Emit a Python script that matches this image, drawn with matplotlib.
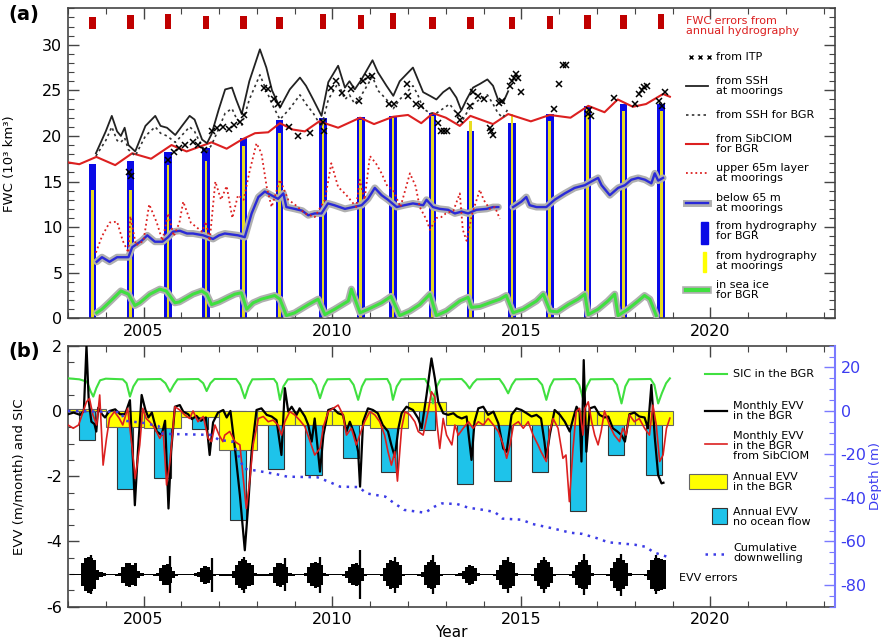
import numpy as np
import matplotlib
matplotlib.use("Agg")
import matplotlib.pyplot as plt
from matplotlib.ticker import MultipleLocator
from matplotlib.patches import Rectangle

plt.rcParams['font.family'] = ['DejaVu Sans']
plt.rcParams['axes.unicode_minus'] = False

# ---------------- panel (a): FWC (10^3 km^3) ----------------
# SSH based FWC, solid = at moorings, dotted = for BGR
ssh_t = [2003.74, 2004.0, 2004.16, 2004.3, 2004.4, 2004.5, 2004.6, 2004.78, 2005.05, 2005.31,
         2005.45, 2005.62, 2005.84, 2006.0, 2006.22, 2006.35, 2006.55, 2006.68, 2006.8, 2006.99,
         2007.16, 2007.34, 2007.45, 2007.6, 2007.8, 2008.08, 2008.25, 2008.4, 2008.61, 2008.87,
         2009.14, 2009.3, 2009.49, 2009.71, 2009.89, 2010.15, 2010.33, 2010.45, 2010.59, 2010.77,
         2011.06, 2011.2, 2011.43, 2011.61, 2011.78, 2012.13, 2012.26, 2012.4, 2012.58, 2012.75,
         2012.93, 2013.1, 2013.28, 2013.41, 2013.55, 2013.72, 2013.9, 2014.1, 2014.25, 2014.38,
         2014.51, 2014.65]
ssh_moorings = [18.1, 20.5, 22.2, 20.5, 20.0, 20.9, 19.0, 18.3, 21.1, 22.2,
                21.1, 20.9, 20.1, 21.0, 22.2, 21.8, 19.6, 19.2, 20.2, 22.9,
                25.1, 25.3, 24.0, 22.4, 26.0, 29.5, 27.5, 25.0, 23.1, 25.1,
                26.4, 25.5, 24.0, 22.2, 25.9, 27.7, 25.3, 26.0, 25.1, 26.2,
                28.3, 27.0, 25.5, 24.4, 26.0, 27.5, 26.2, 24.8, 24.4, 24.0,
                24.8, 25.3, 24.2, 22.8, 24.0, 25.3, 25.7, 26.2, 25.5, 24.0,
                23.6, 24.9]
ssh_bgr = [17.8, 19.5, 21.0, 19.5, 19.3, 19.8, 18.5, 17.8, 20.0, 21.0,
           20.3, 20.0, 19.3, 20.0, 21.0, 20.5, 18.8, 18.3, 19.0, 20.8,
           22.5, 23.0, 22.0, 21.2, 24.0, 26.7, 25.0, 23.5, 21.8, 23.0,
           24.5, 23.5, 22.5, 21.0, 24.0, 25.8, 24.0, 24.5, 23.5, 24.5,
           26.5, 25.0, 24.0, 23.0, 24.0, 25.5, 24.5, 23.0, 22.5, 22.5,
           23.0, 23.5, 22.5, 21.5, 22.5, 23.5, 24.0, 24.5, 23.5, 22.5,
           22.0, 23.0]

# ITP estimates
itp_t = [2004.62, 2004.66, 2005.65, 2005.8, 2005.95, 2006.1, 2006.3, 2006.45, 2006.6, 2006.8,
         2006.95, 2007.1, 2007.25, 2007.4, 2007.55, 2007.65, 2008.2, 2008.3, 2008.45, 2008.55,
         2008.85, 2009.1, 2009.4, 2009.75, 2009.77, 2009.95, 2010.1, 2010.25, 2010.5, 2010.7,
         2010.8, 2010.95, 2011.05, 2011.5, 2011.62, 2011.96, 2012.0, 2012.2, 2012.35, 2012.79,
         2012.87, 2012.95, 2013.03, 2013.33, 2013.37, 2013.64, 2013.72, 2013.85, 2014.0, 2014.16,
         2014.2, 2014.25, 2014.42, 2014.5, 2014.7, 2014.75, 2014.8, 2014.85, 2014.9, 2015.0,
         2015.86, 2015.99, 2016.1, 2016.18, 2016.75, 2016.8, 2016.85, 2017.45, 2018.0, 2018.1,
         2018.18, 2018.25, 2018.32, 2018.65, 2018.72, 2018.8]
itp_v = [16.0, 15.6, 17.4, 18.2, 18.7, 19.0, 19.3, 19.0, 18.5, 20.5,
         20.9, 21.0, 20.8, 21.2, 21.5, 22.3, 25.3, 25.2, 24.0, 23.5,
         21.0, 20.0, 20.3, 21.5, 20.5, 25.3, 26.0, 24.7, 25.1, 23.8,
         26.0, 26.5, 26.6, 23.5, 23.5, 25.7, 24.4, 23.5, 23.3, 21.4,
         20.5, 20.5, 20.5, 22.4, 21.8, 23.3, 24.8, 24.4, 24.0, 20.9,
         20.5, 20.1, 23.6, 23.8, 25.5, 26.0, 26.3, 26.8, 26.4, 24.8,
         22.9, 25.7, 27.8, 27.8, 22.4, 22.8, 22.2, 24.2, 23.5, 24.6,
         25.0, 25.4, 25.5, 23.8, 23.3, 24.8]

# SibCIOM FWC for the BGR
sib_t = [2003.0, 2003.3, 2003.75, 2004.25, 2004.7, 2005.2, 2005.74, 2006.14, 2006.8, 2007.2,
         2007.6, 2007.95, 2008.3, 2008.61, 2008.95, 2009.27, 2009.65, 2010.15, 2010.73, 2011.1,
         2011.6, 2012.0, 2012.35, 2012.66, 2013.0, 2013.37, 2013.65, 2014.25, 2014.65, 2015.25,
         2015.75, 2016.3, 2016.77, 2017.2, 2017.55, 2017.95, 2018.3, 2018.75, 2018.93]
sib_v = [17.1, 16.9, 17.7, 16.8, 18.1, 17.5, 19.0, 18.3, 19.3, 18.6,
         19.6, 20.3, 20.4, 21.4, 20.7, 20.5, 21.6, 20.9, 22.0, 21.3,
         22.1, 22.3, 21.4, 22.5, 22.0, 21.1, 22.2, 21.3, 22.4, 21.6,
         22.3, 22.0, 23.3, 22.6, 24.0, 23.2, 23.5, 24.6, 24.3]

# upper 65 m layer at moorings
up65_t = [2003.74, 2003.9, 2004.1, 2004.3, 2004.45, 2004.6, 2004.65, 2004.8, 2005.0, 2005.15,
          2005.35, 2005.5, 2005.65, 2005.8, 2005.95, 2006.05, 2006.25, 2006.4, 2006.55, 2006.65,
          2006.75, 2006.9, 2007.05, 2007.2, 2007.35, 2007.5, 2007.65, 2007.8, 2007.99, 2008.12,
          2008.26, 2008.39, 2008.61, 2008.83, 2009.0, 2009.27, 2009.53, 2009.8, 2009.97, 2010.15,
          2010.35, 2010.63, 2010.72, 2010.85, 2010.99, 2011.15, 2011.3, 2011.45, 2011.6, 2011.8,
          2012.05, 2012.2, 2012.31, 2012.49, 2012.58, 2012.75, 2012.88, 2013.0, 2013.2, 2013.37,
          2013.45, 2013.55, 2013.7, 2013.9, 2014.0, 2014.16, 2014.3, 2014.43]
up65_v = [7.2, 9.0, 10.5, 10.6, 8.5, 7.2, 11.2, 8.0, 8.5, 12.5,
          10.5, 8.5, 11.5, 9.0, 10.5, 12.8, 10.5, 10.0, 9.5, 10.6,
          8.5, 15.0, 13.0, 14.5, 11.0, 13.5, 13.0, 16.0, 19.2, 18.1,
          14.4, 12.2, 15.2, 13.0, 12.5, 11.5, 11.1, 13.0, 17.0, 14.4,
          13.6, 12.2, 15.2, 13.0, 17.8, 17.0, 15.9, 14.5, 14.1, 12.2,
          15.9, 14.5, 12.2, 10.8, 9.7, 11.0, 11.1, 11.5, 11.8, 13.7,
          9.7, 8.5, 11.5, 14.1, 13.0, 12.0, 12.2, 10.9]

# below 65 m at moorings (gap in 2014)
below_t = [2003.76, 2003.9, 2004.1, 2004.3, 2004.45, 2004.6, 2004.7, 2004.95, 2005.1, 2005.3,
           2005.5, 2005.65, 2005.78, 2005.96, 2006.15, 2006.31, 2006.58, 2006.84, 2007.0, 2007.15,
           2007.5, 2007.68, 2007.86, 2008.04, 2008.21, 2008.38, 2008.56, 2008.7, 2008.78, 2009.0,
           2009.2, 2009.36, 2009.53, 2009.71, 2009.88, 2010.05, 2010.33, 2010.55, 2010.77, 2010.94,
           2011.12, 2011.3, 2011.47, 2011.7, 2011.9, 2012.13, 2012.4, 2012.49, 2012.66, 2012.84,
           2013.06, 2013.24, 2013.42, 2013.59, 2013.81, 2014.08, 2014.25, 2014.39, 2014.6, 2014.78,
           2015.0, 2015.13, 2015.22, 2015.4, 2015.66, 2015.88, 2016.15, 2016.41, 2016.68, 2016.85,
           2017.03, 2017.12, 2017.34, 2017.56, 2017.74, 2017.91, 2018.09, 2018.27, 2018.44, 2018.53,
           2018.62, 2018.75]
below_v = [6.2, 6.7, 6.2, 6.7, 6.7, 6.7, 7.8, 8.5, 9.1, 8.4,
           8.4, 8.9, 9.5, 9.6, 9.3, 9.3, 9.1, 8.7, 9.1, 9.3,
           9.1, 8.9, 11.5, 13.3, 13.9, 13.5, 13.1, 13.7, 12.2, 12.0,
           11.8, 11.3, 11.5, 11.5, 12.6, 12.4, 12.0, 12.2, 12.4, 13.1,
           14.3, 13.5, 13.0, 12.2, 12.4, 12.6, 12.4, 13.0, 12.2, 12.0,
           11.9, 11.5, 11.7, 11.5, 11.9, 12.0, 12.2, 12.2, np.nan, 12.2,
           12.8, 13.3, 12.4, 12.2, 12.2, 13.0, 13.7, 14.3, 14.6, 15.0,
           15.4, 14.6, 13.5, 14.3, 14.6, 15.2, 15.4, 15.2, 14.8, 15.9,
           15.1, 15.4]

# FWC in sea ice for the BGR
ice_t = [2003.76, 2003.9, 2004.13, 2004.4, 2004.6, 2004.77, 2004.9, 2005.17, 2005.43, 2005.6,
         2005.83, 2005.95, 2006.31, 2006.54, 2006.67, 2006.8, 2007.0, 2007.24, 2007.42, 2007.59,
         2007.73, 2007.9, 2008.12, 2008.47, 2008.61, 2008.78, 2009.0, 2009.36, 2009.62, 2009.8,
         2010.06, 2010.42, 2010.5, 2010.73, 2010.95, 2011.3, 2011.55, 2011.78, 2012.05, 2012.31,
         2012.58, 2012.75, 2013.02, 2013.37, 2013.59, 2013.68, 2013.9, 2014.16, 2014.43, 2014.6,
         2014.78, 2015.05, 2015.4, 2015.58, 2015.76, 2015.95, 2016.24, 2016.5, 2016.68, 2016.77,
         2017.03, 2017.29, 2017.47, 2017.56, 2017.82, 2018.09, 2018.26, 2018.4, 2018.57]
ice_v = [0.6, 1.0, 1.9, 3.0, 2.65, 1.4, 1.7, 2.65, 3.2, 3.0,
         1.7, 1.8, 2.65, 3.0, 2.65, 1.5, 1.8, 2.3, 2.65, 2.8,
         1.0, 1.7, 2.1, 2.5, 2.1, 0.3, 0.6, 1.5, 2.1, 0.4,
         1.0, 1.9, 3.2, 0.6, 1.0, 1.7, 2.4, 0.3, 0.8, 1.5,
         2.65, 0.3, 0.8, 1.9, 2.3, 1.2, 1.3, 1.7, 2.1, 2.5,
         0.6, 1.0, 1.9, 2.65, 0.8, 0.7, 1.5, 2.1, 2.65, 0.4,
         1.0, 1.9, 2.65, 0.3, 1.0, 1.9, 2.5, 2.1, 0.3]

# annual hydrography surveys
hyd_t = [2003.65, 2004.65, 2005.65, 2006.65, 2007.65, 2008.6, 2009.75, 2010.75,
         2011.6, 2012.65, 2013.65, 2014.75, 2015.75, 2016.75, 2017.7, 2018.7]
hyd_bgr = [16.9, 17.2, 18.2, 18.7, 19.8, 21.8, 22.0, 22.1,
           22.2, 22.5, 20.5, 21.4, 22.4, 23.3, 23.5, 23.5]
hyd_moor = [14.1, 14.1, 16.8, 17.2, 18.9, 20.3, 21.8, 21.8,
            22.0, 22.2, 21.6, 22.4, 21.6, 22.9, 22.7, 22.7]
hyd_err_base = 31.7
hyd_err_top = [33.0, 33.3, 33.35, 33.2, 33.2, 33.0, 33.35, 33.3,
               33.5, 33.0, 33.0, 33.0, 33.2, 33.3, 33.3, 33.35]

# ---------------- panel (b): EVV ----------------
sic = [(2003.0, 1.0), (2003.3, 0.97), (2003.5, 0.9), (2003.6, 0.6), (2003.67, 0.44), (2003.75, 0.7),
       (2003.85, 0.94), (2004.0, 0.99), (2004.45, 0.97), (2004.55, 0.85), (2004.64, 0.44), (2004.73, 0.75),
       (2004.85, 0.97), (2005.45, 0.98), (2005.58, 0.85), (2005.7, 0.59), (2005.8, 0.8), (2005.9, 0.97),
       (2006.45, 0.98), (2006.58, 0.85), (2006.67, 0.61), (2006.77, 0.85), (2006.88, 0.98),
       (2007.45, 0.98), (2007.56, 0.8), (2007.68, 0.39), (2007.78, 0.75), (2007.88, 0.97),
       (2008.45, 0.98), (2008.53, 0.85), (2008.61, 0.34), (2008.7, 0.75), (2008.82, 0.97),
       (2009.45, 0.98), (2009.56, 0.8), (2009.67, 0.39), (2009.77, 0.75), (2009.87, 0.97),
       (2010.45, 0.98), (2010.56, 0.8), (2010.68, 0.34), (2010.78, 0.75), (2010.88, 0.97),
       (2011.45, 0.98), (2011.53, 0.8), (2011.6, 0.34), (2011.7, 0.75), (2011.82, 0.97),
       (2012.45, 0.98), (2012.56, 0.75), (2012.66, 0.23), (2012.76, 0.75), (2012.86, 0.97),
       (2013.42, 0.98), (2013.53, 0.85), (2013.63, 0.69), (2013.72, 0.85), (2013.82, 0.97),
       (2014.42, 0.98), (2014.53, 0.8), (2014.65, 0.54), (2014.75, 0.8), (2014.85, 0.97),
       (2015.42, 0.98), (2015.55, 0.8), (2015.66, 0.34), (2015.76, 0.75), (2015.86, 0.97),
       (2016.42, 0.98), (2016.53, 0.8), (2016.63, 0.39), (2016.73, 0.75), (2016.83, 0.97),
       (2017.42, 0.98), (2017.53, 0.8), (2017.65, 0.23), (2017.75, 0.75), (2017.85, 0.97),
       (2018.42, 0.98), (2018.52, 0.8), (2018.62, 0.23), (2018.72, 0.55), (2018.83, 0.85),
       (2018.93, 1.0)]

# monthly EVV in the BGR (m/month)
evv = [(2003.0, -0.1), (2003.15, -0.05), (2003.32, -0.12), (2003.42, 0.0), (2003.49, 2.0), (2003.55, 0.3),
       (2003.62, -0.33), (2003.7, -0.4), (2003.75, -0.63), (2003.8, 0.1), (2003.9, -0.1), (2003.98, -0.2),
       (2004.1, 0.0), (2004.25, 0.05), (2004.38, -0.1), (2004.51, -0.1), (2004.64, 0.33), (2004.73, -1.76),
       (2004.77, -2.89), (2004.85, -1.25), (2004.95, 0.49), (2005.05, 0.03), (2005.13, -0.2), (2005.22, -0.05),
       (2005.35, -0.63), (2005.48, -0.74), (2005.57, -0.3), (2005.66, -2.99), (2005.73, -1.25), (2005.83, 0.13),
       (2005.96, 0.18), (2006.05, -0.02), (2006.18, -0.1), (2006.28, -0.25), (2006.4, -0.15), (2006.52, -0.3),
       (2006.65, -0.2), (2006.75, -1.35), (2006.84, -0.35), (2006.97, -0.05), (2007.11, 0.03), (2007.2, -0.2),
       (2007.3, 0.0), (2007.42, -1.15), (2007.55, -2.58), (2007.68, -4.27), (2007.77, -2.89), (2007.86, -1.25),
       (2007.99, 0.03), (2008.12, 0.08), (2008.26, -0.12), (2008.39, -0.17), (2008.52, -0.28), (2008.65, -1.35),
       (2008.74, 0.7), (2008.83, -0.02), (2008.92, 0.13), (2009.05, -0.12), (2009.13, 0.08), (2009.27, -0.17),
       (2009.36, -0.43), (2009.45, -0.94), (2009.53, -0.23), (2009.67, -1.86), (2009.76, -0.74), (2009.89, 0.03),
       (2010.02, 0.08), (2010.15, -0.07), (2010.28, -0.12), (2010.37, -0.63), (2010.46, -0.33), (2010.59, -0.74),
       (2010.68, -1.25), (2010.73, -2.32), (2010.81, -0.33), (2010.94, 0.08), (2011.07, 0.03), (2011.2, -0.07),
       (2011.33, -0.43), (2011.47, -0.63), (2011.56, -1.05), (2011.65, -1.4), (2011.75, -0.5), (2011.83, -0.07),
       (2011.96, 0.13), (2012.13, 0.03), (2012.27, -0.23), (2012.36, -0.53), (2012.49, 0.49), (2012.62, 1.61),
       (2012.71, 1.0), (2012.8, 0.28), (2012.93, -0.07), (2013.06, -0.12), (2013.2, -0.07), (2013.3, -0.17),
       (2013.42, -0.23), (2013.55, -0.17), (2013.68, -1.5), (2013.76, -0.33), (2013.86, 0.08), (2013.99, 0.13),
       (2014.12, -0.12), (2014.26, -0.02), (2014.39, -0.38), (2014.52, -1.15), (2014.61, -1.25), (2014.74, -0.12),
       (2014.87, 0.08), (2015.0, 0.03), (2015.14, -0.07), (2015.27, -0.17), (2015.4, -0.12), (2015.52, -0.23),
       (2015.61, -0.94), (2015.66, -1.45), (2015.75, -0.74), (2015.88, 0.03), (2016.02, -0.12), (2016.15, -0.33),
       (2016.28, -0.63), (2016.37, -0.23), (2016.46, 0.13), (2016.54, -0.02), (2016.59, -1.55), (2016.65, 1.56),
       (2016.72, -1.25), (2016.81, 0.08), (2016.94, 0.13), (2017.07, -0.12), (2017.2, -0.2), (2017.3, -0.17),
       (2017.42, -0.53), (2017.54, -0.63), (2017.65, -0.74), (2017.74, -0.94), (2017.86, -0.1), (2017.99, -0.05),
       (2018.12, -0.17), (2018.26, -0.2), (2018.35, -0.53), (2018.44, 0.8), (2018.53, -0.8), (2018.62, -1.97),
       (2018.71, -2.22), (2018.76, -2.2)]

# monthly EVV from SibCIOM
evv_sib = [(2003.0, -0.43), (2003.14, -0.53), (2003.28, -0.43), (2003.4, -0.02), (2003.49, 0.28), (2003.57, 0.38),
           (2003.66, -0.12), (2003.76, -0.43), (2003.84, 0.49), (2003.93, -1.66), (2004.02, -0.84), (2004.1, -0.23),
           (2004.23, -0.02), (2004.36, -0.23), (2004.45, -0.43), (2004.58, 0.08), (2004.69, -1.04), (2004.78, -2.07),
           (2004.9, -1.04), (2004.98, 0.08), (2005.07, -0.23), (2005.16, -0.33), (2005.3, -0.53), (2005.43, -0.84),
           (2005.52, -0.63), (2005.61, -2.27), (2005.7, -1.55), (2005.83, 0.13), (2005.96, 0.03), (2006.09, -0.12),
           (2006.22, -0.23), (2006.31, 0.0), (2006.44, -0.33), (2006.58, -0.17), (2006.71, -0.84), (2006.8, -0.94),
           (2006.89, -0.43), (2007.0, -0.74), (2007.1, -0.94), (2007.15, -0.74), (2007.28, -0.63), (2007.42, -0.94),
           (2007.55, -1.04), (2007.63, -1.97), (2007.72, -2.99), (2007.81, -2.15), (2007.9, -1.04), (2008.04, -0.23),
           (2008.17, -0.17), (2008.3, -0.33), (2008.43, -0.28), (2008.56, -0.43), (2008.65, -0.74), (2008.74, -0.33),
           (2008.87, -0.02), (2009.0, -0.12), (2009.13, -0.28), (2009.27, -0.48), (2009.41, -0.94), (2009.53, -1.35),
           (2009.67, -1.15), (2009.76, -0.48), (2009.89, -0.02), (2010.02, 0.08), (2010.15, 0.18), (2010.28, -0.12),
           (2010.37, -0.74), (2010.5, -0.53), (2010.63, -1.04), (2010.72, -0.74), (2010.85, -0.33), (2010.99, -0.02),
           (2011.12, -0.12), (2011.25, -0.33), (2011.38, -0.74), (2011.47, -1.25), (2011.56, -1.66), (2011.65, -1.25),
           (2011.72, -2.15), (2011.83, -0.53), (2011.92, -0.02), (2012.05, -0.12), (2012.18, -0.33), (2012.27, -0.63),
           (2012.4, -0.74), (2012.53, -0.02), (2012.62, 0.59), (2012.71, 0.43), (2012.77, -0.43), (2012.84, -1.15),
           (2012.93, -0.23), (2013.02, -0.74), (2013.16, -1.04), (2013.24, -0.43), (2013.33, -0.74), (2013.46, -0.53),
           (2013.6, -0.33), (2013.72, -0.53), (2013.86, -0.33), (2013.99, -0.43), (2014.12, -0.23), (2014.26, -0.43),
           (2014.39, -0.63), (2014.52, -1.04), (2014.61, -1.45), (2014.7, -1.04), (2014.79, -0.43), (2014.92, -0.33),
           (2015.05, -0.53), (2015.18, -0.33), (2015.31, -0.74), (2015.44, -1.04), (2015.52, -1.25), (2015.66, -1.55),
           (2015.75, -0.63), (2015.84, -0.23), (2015.97, -0.53), (2016.1, -1.45), (2016.18, -1.35), (2016.27, -2.78),
           (2016.36, -1.25), (2016.45, -0.02), (2016.54, 0.08), (2016.63, -0.74), (2016.68, 0.08), (2016.77, 0.28),
           (2016.86, -0.33), (2016.94, -0.74), (2017.03, -1.04), (2017.11, -0.63), (2017.2, 0.0), (2017.33, -0.43),
           (2017.46, -0.74), (2017.6, -0.94), (2017.68, -0.53), (2017.77, -0.74), (2017.86, -0.12), (2017.99, -0.33),
           (2018.12, -0.23), (2018.26, -0.53), (2018.39, -0.74), (2018.48, 0.18), (2018.57, -0.43), (2018.66, -1.55),
           (2018.75, -1.35), (2018.84, -0.53), (2018.93, -0.22)]

# annual EVV (m/month)
ann_years = list(range(2003, 2019))
ann_bgr = [0.06, -0.48, -0.53, -0.2, -1.2, -0.43, -0.43, -0.43,
           -0.53, 0.28, -0.43, -0.43, -0.43, -0.43, -0.43, -0.43]
ann_noflow = [-0.88, -2.39, -2.05, -0.56, -3.35, -1.79, -1.97, -1.45,
              -1.86, -0.58, -2.25, -2.15, -1.88, -3.06, -1.35, -1.97]

# cumulative downwelling (m, right axis)
down_t = [2003.0, 2004.4, 2004.5, 2005.0, 2005.4, 2005.5, 2006.0, 2006.8, 2007.0, 2007.35,
          2007.5, 2007.65, 2008.0, 2008.5, 2008.8, 2009.6, 2009.9, 2010.2, 2010.7, 2010.9,
          2011.4, 2011.6, 2011.9, 2012.45, 2012.7, 2012.9, 2013.3, 2013.6, 2014.0, 2014.3,
          2014.5, 2015.0, 2015.3, 2015.7, 2016.0, 2016.3, 2016.6, 2017.0, 2017.3, 2017.7,
          2018.0, 2018.3, 2018.5, 2018.85]
down_v = [0.0, -0.5, -4.5, -5.5, -7.0, -10.5, -10.7, -11.0, -13.4, -14.0,
          -20.0, -26.5, -27.5, -29.0, -30.2, -30.5, -32.5, -34.8, -35.0, -37.9,
          -39.4, -42.0, -45.5, -46.8, -44.0, -42.5, -42.8, -44.5, -45.5, -46.5,
          -49.5, -50.0, -52.0, -53.5, -54.7, -56.0, -56.5, -58.5, -60.4, -61.0,
          -61.5, -62.5, -65.0, -67.0]

# EVV errors: monthly half-widths per year, drawn around an offset
err_offset = -5.02
err_monthly = [
    [0.02, 0.02, 0.02, 0.02, 0.35, 0.50, 0.55, 0.50, 0.45, 0.15, 0.08, 0.04],  # 2003
    [0.02, 0.02, 0.02, 0.03, 0.05, 0.25, 0.35, 0.37, 0.30, 0.35, 0.10, 0.05],  # 2004
    [0.02, 0.02, 0.02, 0.03, 0.05, 0.20, 0.30, 0.32, 0.25, 0.10, 0.03, 0.02],  # 2005
    [0.02, 0.02, 0.02, 0.02, 0.04, 0.08, 0.22, 0.27, 0.25, 0.15, 0.03, 0.02],  # 2006
    [0.03, 0.03, 0.03, 0.03, 0.10, 0.30, 0.42, 0.47, 0.45, 0.35, 0.30, 0.05],  # 2007
    [0.03, 0.03, 0.03, 0.03, 0.05, 0.25, 0.35, 0.37, 0.33, 0.25, 0.05, 0.03],  # 2008
    [0.02, 0.02, 0.02, 0.05, 0.25, 0.35, 0.40, 0.37, 0.30, 0.05, 0.03, 0.02],  # 2009
    [0.02, 0.02, 0.02, 0.03, 0.10, 0.25, 0.32, 0.35, 0.30, 0.20, 0.03, 0.02],  # 2010
    [0.02, 0.02, 0.02, 0.03, 0.20, 0.35, 0.45, 0.42, 0.40, 0.30, 0.03, 0.02],  # 2011
    [0.02, 0.02, 0.02, 0.03, 0.08, 0.30, 0.40, 0.45, 0.40, 0.30, 0.03, 0.02],  # 2012
    [0.02, 0.02, 0.02, 0.03, 0.05, 0.12, 0.25, 0.30, 0.28, 0.20, 0.05, 0.02],  # 2013
    [0.02, 0.02, 0.02, 0.03, 0.15, 0.30, 0.45, 0.45, 0.40, 0.35, 0.05, 0.02],  # 2014
    [0.02, 0.02, 0.02, 0.03, 0.20, 0.35, 0.45, 0.45, 0.38, 0.25, 0.03, 0.02],  # 2015
    [0.02, 0.02, 0.02, 0.03, 0.10, 0.30, 0.40, 0.45, 0.45, 0.30, 0.05, 0.02],  # 2016
    [0.02, 0.02, 0.02, 0.03, 0.20, 0.40, 0.50, 0.50, 0.45, 0.35, 0.05, 0.02],  # 2017
    [0.02, 0.02, 0.02, 0.03, 0.15, 0.45, 0.50, 0.50, 0.48, 0.45, 0.00, 0.00],  # 2018
]
err_spike_t = [2003.6, 2005.7, 2006.8, 2007.65, 2008.75, 2009.67, 2010.73, 2011.65,
               2012.65, 2014.65, 2015.6, 2016.66, 2017.63, 2018.55]
err_spike_h = [0.6, 0.57, 0.52, 0.55, 0.5, 0.55, 0.75, 0.55,
               0.6, 0.55, 0.55, 0.62, 0.65, 0.6]

# ---------------- colours ----------------
RED = '#dc2020'
DKRED = '#c00000'
BLUE = '#0a0ae6'
LINEBLUE = '#2a2ad8'
GREEN = '#40e040'
CYAN = '#1ec3ea'
YEL = '#ffff00'
HALO = '#b0b0b0'
AXBLUE = '#7a7aff'
SPINE = '#444444'

fig = plt.figure(figsize=(8.85, 6.42), dpi=100)
axa = fig.add_axes([0.0768, 0.5042, 0.8667, 0.4829])
axb = fig.add_axes([0.0768, 0.0550, 0.8667, 0.4065])

# ---------- panel (a) ----------
axa.bar(hyd_t, hyd_bgr, width=0.2, color=BLUE, zorder=2)
axa.bar(hyd_t, hyd_moor, width=0.07, color='#e8dc20', zorder=2.5)
axa.bar(hyd_t, np.array(hyd_err_top) - hyd_err_base, bottom=hyd_err_base,
        width=0.17, color=DKRED, zorder=2)

axa.plot(below_t, below_v, color=HALO, lw=5, solid_capstyle='round', zorder=3)
axa.plot(below_t, below_v, color=LINEBLUE, lw=1.7, zorder=3.1)
axa.plot(ice_t, ice_v, color=HALO, lw=5, solid_capstyle='round', zorder=3)
axa.plot(ice_t, ice_v, color=GREEN, lw=2.2, zorder=3.1)
axa.plot(up65_t, up65_v, color=RED, lw=1.3, ls=(0, (1, 1.6)), zorder=3.2)
axa.plot(sib_t, sib_v, color=RED, lw=1.5, zorder=3.3)
axa.plot(ssh_t, ssh_bgr, color='#333333', lw=1.2, ls=(0, (1.5, 2)), zorder=3.4)
axa.plot(ssh_t, ssh_moorings, color='#222222', lw=1.3, zorder=3.5)
axa.plot(itp_t, itp_v, 'x', color='black', ms=4.5, mew=1.1, zorder=3.6)

axa.set_xlim(2003, 2023.3)
axa.set_ylim(0, 34)
axa.set_ylabel('FWC (10³ km³)', fontsize=9.5)
axa.yaxis.set_label_coords(-0.068, 0.5)

# legend (a)
ta = axa.transAxes
fs = 8
axa.text(0.806, 0.943, 'FWC errors from\nannual hydrography', transform=ta, color=RED,
         fontsize=fs, va='center', ha='left', linespacing=1.05)
tx = 0.845
for label, y in [('from ITP', 0.843), ('from SSH\nat moorings', 0.749),
                 ('from SSH for BGR', 0.656), ('from SibCIOM\nfor BGR', 0.562),
                 ('upper 65m layer\nat moorings', 0.469), ('below 65 m\nat moorings', 0.372),
                 ('from hydrography\nfor BGR', 0.281), ('from hydrography\nat moorings', 0.185),
                 ('in sea ice\nfor BGR', 0.092)]:
    axa.text(tx, y, label, transform=ta, fontsize=fs, va='center', ha='left', linespacing=1.05)
axa.plot([0.812, 0.824, 0.836], [0.843] * 3, 'x', color='black', ms=3.5, mew=1, transform=ta)
axa.plot([0.806, 0.835], [0.749] * 2, color='#222222', lw=1.3, transform=ta)
axa.plot([0.806, 0.835], [0.656] * 2, color='#333333', lw=1.2, ls=(0, (1.5, 2)), transform=ta)
axa.plot([0.806, 0.835], [0.562] * 2, color=RED, lw=1.5, transform=ta)
axa.plot([0.806, 0.835], [0.469] * 2, color=RED, lw=1.3, ls=(0, (1, 1.6)), transform=ta)
axa.plot([0.806, 0.835], [0.372] * 2, color=HALO, lw=5, transform=ta)
axa.plot([0.806, 0.835], [0.372] * 2, color=LINEBLUE, lw=1.7, transform=ta)
axa.add_patch(Rectangle((0.825, 0.240), 0.009, 0.071, transform=ta, color=BLUE))
axa.add_patch(Rectangle((0.8275, 0.150), 0.004, 0.064, transform=ta, color=YEL))
axa.plot([0.806, 0.835], [0.092] * 2, color=HALO, lw=5.5, transform=ta)
axa.plot([0.806, 0.835], [0.092] * 2, color=GREEN, lw=3, transform=ta)

# ---------- panel (b) ----------
axb.bar(np.array(ann_years) + 0.5, ann_noflow, width=0.43, color=CYAN,
        edgecolor='#333333', lw=0.8, zorder=1.5)
axb.bar(ann_years, ann_bgr, width=1.0, align='edge', color=YEL,
        edgecolor='#666666', lw=0.8, zorder=2)

sic_t, sic_v = zip(*sic)
axb.plot(sic_t, sic_v, color=GREEN, lw=1.5, zorder=3)
evv_t, evv_v = zip(*evv)
axb.plot(evv_t, evv_v, color='black', lw=1.6, zorder=4)
sib_et, sib_ev = zip(*evv_sib)
axb.plot(sib_et, sib_ev, color=RED, lw=1.2, zorder=4.5)

months = 2003 + (np.arange(len(err_monthly) * 12) + 0.5) / 12.0
errs = np.array(err_monthly).ravel()
axb.fill_between(months, err_offset - errs, err_offset + errs, step='mid',
                 color='black', lw=0, zorder=3)
axb.vlines(err_spike_t, err_offset - np.array(err_spike_h), err_offset + np.array(err_spike_h),
           color='black', lw=1.6, zorder=3)

axb.set_xlim(2003, 2023.3)
axb.set_ylim(-6, 2)
axb.set_ylabel('EVV (m/month) and SIC', fontsize=9.5)
axb.yaxis.set_label_coords(-0.055, 0.5)
axb.set_xlabel('Year', fontsize=11)
axb.xaxis.set_label_coords(0.5, -0.072)

ax2 = axb.twinx()
ax2.plot(down_t, down_v, color='#3c3ce6', lw=1.8, ls=(0, (1, 2.2)), zorder=5)
ax2.set_ylim(-90, 30)
ax2.set_ylabel('Depth (m)', fontsize=9.5, color='#3c3cf0')
ax2.yaxis.set_label_coords(1.044, 0.5)

# legend (b)
tb = axb.transAxes
txb = 0.867
for label, y in [('SIC in the BGR', 0.892), ('Monthly EVV\nin the BGR', 0.750),
                 ('Monthly EVV\nin the BGR\nfrom SibCIOM', 0.616), ('Annual EVV\nin the BGR', 0.478),
                 ('Annual EVV\nno ocean flow', 0.344), ('Cumulative\ndownwelling', 0.206)]:
    axb.text(txb, y, label, transform=tb, fontsize=fs, va='center', ha='left',
             linespacing=1.05, zorder=6)
axb.text(0.797, 0.110, 'EVV errors', transform=tb, fontsize=fs, va='center', ha='left')
axb.plot([0.830, 0.859], [0.892] * 2, color=GREEN, lw=1.5, transform=tb)
axb.plot([0.830, 0.859], [0.750] * 2, color='black', lw=1.6, transform=tb)
axb.plot([0.830, 0.859], [0.623] * 2, color=RED, lw=1.2, transform=tb)
axb.add_patch(Rectangle((0.810, 0.451), 0.049, 0.057, transform=tb, facecolor=YEL,
                        edgecolor='#666666', lw=0.8))
axb.add_patch(Rectangle((0.840, 0.317), 0.019, 0.061, transform=tb, facecolor=CYAN,
                        edgecolor='#333333', lw=0.8))
axb.plot([0.830, 0.859], [0.202] * 2, color='#3c3ce6', lw=1.8, ls=(0, (1, 2.2)), transform=tb)

# ---------- axes styling ----------
for ax in (axa, axb):
    ax.set_xticks([2005, 2010, 2015, 2020])
    ax.xaxis.set_minor_locator(MultipleLocator(1))
    ax.tick_params(which='both', direction='in', top=True, labelsize=11.5, color=SPINE, pad=4)
    ax.tick_params(which='major', length=8, width=1)
    ax.tick_params(which='minor', length=4, width=0.8)
    for s in ax.spines.values():
        s.set_color(SPINE)
        s.set_linewidth(1.2)

axa.yaxis.set_major_locator(MultipleLocator(5))
axa.yaxis.set_minor_locator(MultipleLocator(1))
axa.tick_params(which='both', right=True)
axa.set_yticks([0, 5, 10, 15, 20, 25, 30])

axb.yaxis.set_major_locator(MultipleLocator(2))
axb.yaxis.set_minor_locator(MultipleLocator(0.5))
axb.tick_params(which='both', right=False)
axb.spines['right'].set_visible(False)

ax2.yaxis.set_major_locator(MultipleLocator(20))
ax2.yaxis.set_minor_locator(MultipleLocator(5))
ax2.tick_params(which='both', direction='in', colors='#3c3cf0', labelsize=11.5, pad=4)
ax2.tick_params(which='major', length=8, width=1, color=AXBLUE)
ax2.tick_params(which='minor', length=4, width=0.8, color=AXBLUE)
ax2.set_yticks([-80, -60, -40, -20, 0, 20])
for name, s in ax2.spines.items():
    s.set_visible(name == 'right')
ax2.spines['right'].set_color(AXBLUE)
ax2.spines['right'].set_linewidth(1.5)

fig.text(0.009, 0.977, '(a)', fontsize=14, fontweight='bold', va='center', ha='left')
fig.text(0.009, 0.452, '(b)', fontsize=14, fontweight='bold', va='center', ha='left')

fig.savefig('out.png', dpi=100)
